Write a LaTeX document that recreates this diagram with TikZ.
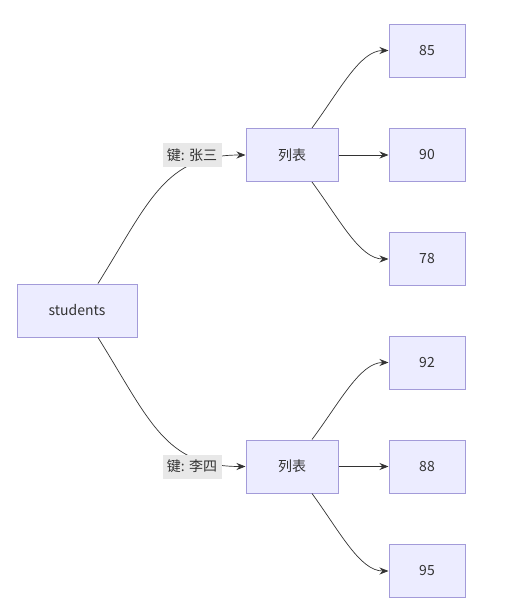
\documentclass[tikz,border=0pt]{standalone}
\usepackage{fontspec}
\setmainfont{Noto Sans CJK SC}
\usetikzlibrary{arrows.meta}
\definecolor{boxfill}{HTML}{ECECFF}
\definecolor{boxline}{HTML}{A39BD9}
\definecolor{edgecol}{HTML}{333333}
\definecolor{keybg}{HTML}{E8E8E8}
\begin{document}
\begin{tikzpicture}[x=1pt,y=-1pt,
    box/.style={draw=boxline,fill=boxfill,line width=1pt,minimum height=53pt,text=edgecol,font=\fontsize{14}{16}\selectfont},
    keylabel/.style={fill=keybg,text=edgecol,inner sep=1pt,minimum width=59pt,minimum height=24pt,font=\fontsize{14}{16}\selectfont},
    link/.style={draw=edgecol,line width=0.7pt,-{Stealth[length=9pt,width=7pt]}}]
    \useasboundingbox (0,0) rectangle (508,611);

    \node[box,minimum width=120pt](students)at(77,310.5){students};
    \node[box,minimum width=92pt](list1)at(292,155){列表};
    \node[box,minimum width=92pt](list2)at(292,466.5){列表};

    \node[box,minimum width=76pt](v85)at(427,50.5){85};
    \node[box,minimum width=76pt](v90)at(427,155){90};
    \node[box,minimum width=76pt](v78)at(427,259){78};
    \node[box,minimum width=76pt](v92)at(427,362.5){92};
    \node[box,minimum width=76pt](v88)at(427,466.5){88};
    \node[box,minimum width=76pt](v95)at(427,571){95};

    % students to the two lists
    \draw[link]([xshift=21pt]students.north)..controls(150,200)and(165,155)..(list1.west);
    \draw[link]([xshift=21pt]students.south)..controls(150,421)and(165,466.5)..(list2.west);
    \node[keylabel](key1)at(192,155){键: 张三};
    \node[keylabel](key2)at(192,466.5){键: 李四};

    % lists to scores
    \draw[link]([xshift=20pt]list1.north)..controls(340,90)and(360,50.5)..(v85.west);
    \draw[link](list1.east)--(v90.west);
    \draw[link]([xshift=20pt]list1.south)..controls(340,220)and(360,259)..(v78.west);
    \draw[link]([xshift=20pt]list2.north)..controls(340,402)and(360,362.5)..(v92.west);
    \draw[link](list2.east)--(v88.west);
    \draw[link]([xshift=20pt]list2.south)..controls(340,532)and(360,571)..(v95.west);
\end{tikzpicture}
\end{document}
